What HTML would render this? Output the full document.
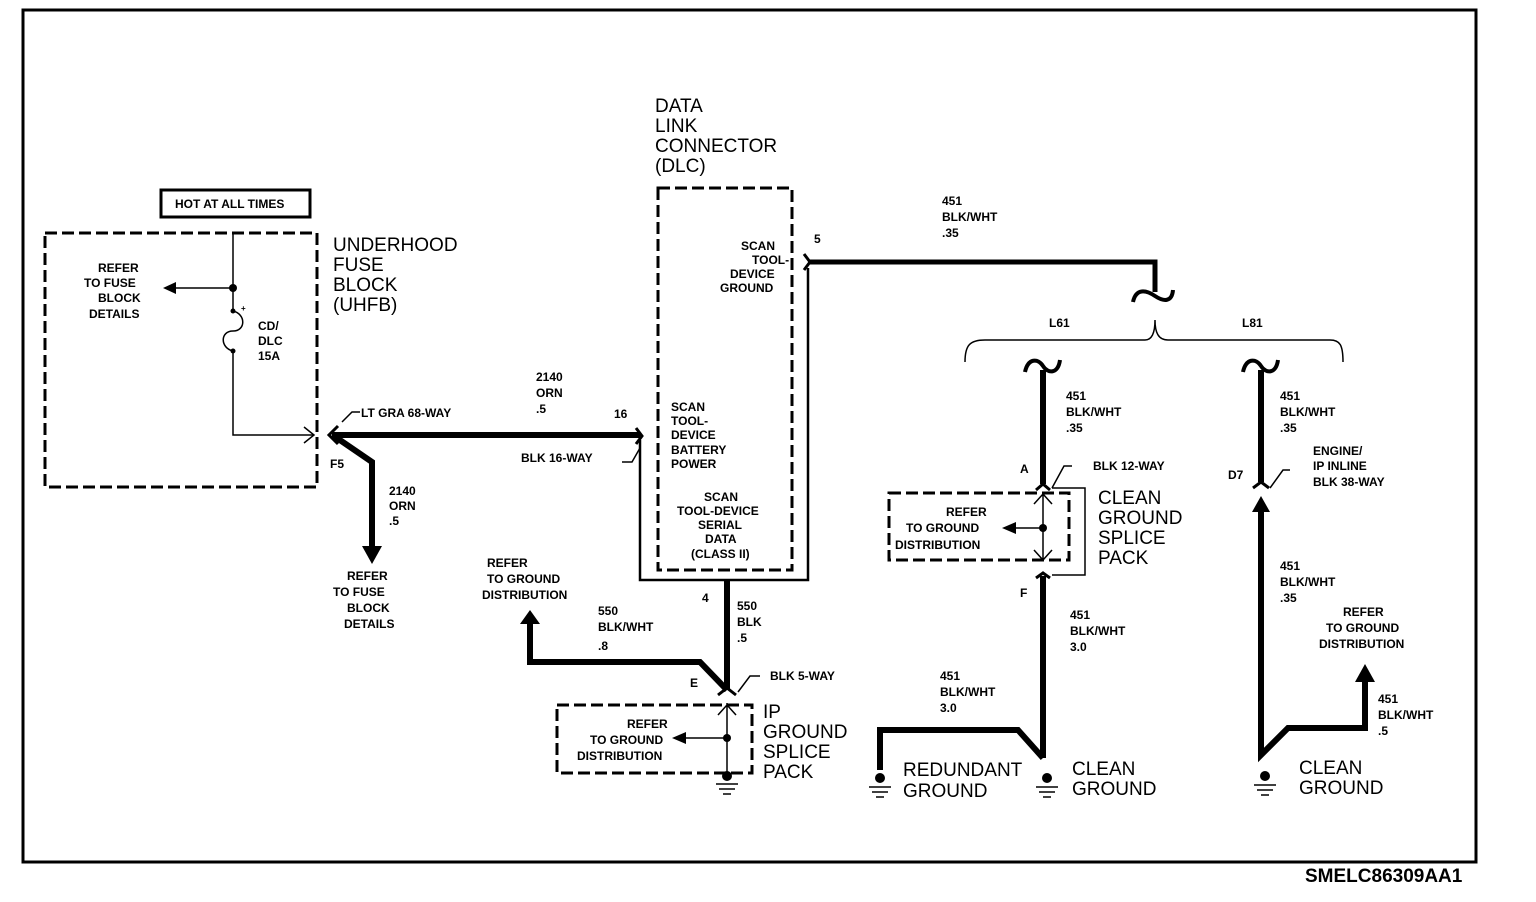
<!DOCTYPE html>
<html><head><meta charset="utf-8"><style>
html,body{margin:0;padding:0;background:#fff;}
svg{display:block;}
text{font-family:"Liberation Sans",Arial,sans-serif;font-weight:bold;fill:#000;}
.s{font-size:12px;}
.b{font-size:19px;font-weight:normal;}
</style></head><body>
<svg width="1536" height="902" viewBox="0 0 1536 902" xmlns="http://www.w3.org/2000/svg">
<rect x="23" y="10" width="1453" height="852" fill="none" stroke="#000" stroke-width="3"/>
<text x="1305" y="882" style="font-size:19px">SMELC86309AA1</text>

<!-- HOT AT ALL TIMES -->
<rect x="161" y="190" width="149" height="27" fill="none" stroke="#000" stroke-width="3"/>
<text x="175" y="208" class="s">HOT AT ALL TIMES</text>

<!-- UHFB -->
<g fill="none" stroke="#000">
<rect x="45" y="233" width="272" height="254" stroke-width="3" stroke-dasharray="12,5"/>
<path d="M233 233 V311 M233 351 V435 H314" stroke-width="1.5"/>
<path d="M233 311 C246 314 246 331 233 331 C220 331 220 348 233 351" stroke-width="1.5"/>
<path d="M233 288 H172" stroke-width="1.5"/>
<path d="M304 427 L314 435 L304 443" stroke-width="1.5"/>
</g>
<circle cx="233" cy="288" r="4"/>
<circle cx="233" cy="311" r="2.5"/>
<circle cx="233" cy="351" r="2.5"/>
<text x="241" y="311" style="font-size:8px">+</text>
<polygon points="163,288 176,282 176,294"/>
<text x="98" y="272" class="s">REFER</text>
<text x="84" y="287" class="s">TO FUSE</text>
<text x="98" y="302" class="s">BLOCK</text>
<text x="89" y="318" class="s">DETAILS</text>
<text x="258" y="330" class="s">CD/</text>
<text x="258" y="345" class="s">DLC</text>
<text x="258" y="360" class="s">15A</text>
<text x="333" y="251" class="b">UNDERHOOD</text>
<text x="333" y="271" class="b">FUSE</text>
<text x="333" y="291" class="b">BLOCK</text>
<text x="333" y="311" class="b">(UHFB)</text>

<!-- main wire 2140 -->
<g fill="none" stroke="#000" stroke-linejoin="miter">
<path d="M332 435 H640" stroke-width="6"/>
<path d="M334 436 L372 462 V548" stroke-width="6"/>
<path d="M338 426 L329 435 L338 444" stroke-width="3"/>
<path d="M342 422 L352 412 H360" stroke-width="1.5"/>
<path d="M636 428 L642 436 L636 444" stroke-width="3"/>
<path d="M622 462 L632 462 L640 448" stroke-width="1.5"/>
<path d="M640 440 V580 H808 V268" stroke-width="2.5"/>
</g>
<polygon points="362,546 382,546 372,564"/>
<text x="361" y="417" class="s">LT GRA 68-WAY</text>
<text x="330" y="468" class="s">F5</text>
<text x="389" y="495" class="s">2140</text>
<text x="389" y="510" class="s">ORN</text>
<text x="389" y="525" class="s">.5</text>
<text x="347" y="580" class="s">REFER</text>
<text x="333" y="596" class="s">TO FUSE</text>
<text x="347" y="612" class="s">BLOCK</text>
<text x="344" y="628" class="s">DETAILS</text>
<text x="536" y="381" class="s">2140</text>
<text x="536" y="397" class="s">ORN</text>
<text x="536" y="413" class="s">.5</text>
<text x="614" y="418" class="s">16</text>
<text x="521" y="462" class="s">BLK 16-WAY</text>

<!-- DLC -->
<rect x="658" y="188" width="134" height="382" fill="none" stroke="#000" stroke-width="3" stroke-dasharray="12,5"/>
<text x="655" y="112" class="b">DATA</text>
<text x="655" y="132" class="b">LINK</text>
<text x="655" y="152" class="b">CONNECTOR</text>
<text x="655" y="172" class="b">(DLC)</text>
<text x="741" y="250" class="s">SCAN</text>
<text x="752" y="264" class="s">TOOL-</text>
<text x="730" y="278" class="s">DEVICE</text>
<text x="720" y="292" class="s">GROUND</text>
<text x="671" y="411" class="s">SCAN</text>
<text x="671" y="425" class="s">TOOL-</text>
<text x="671" y="439" class="s">DEVICE</text>
<text x="671" y="454" class="s">BATTERY</text>
<text x="671" y="468" class="s">POWER</text>
<text x="704" y="501" class="s">SCAN</text>
<text x="677" y="515" class="s">TOOL-DEVICE</text>
<text x="698" y="529" class="s">SERIAL</text>
<text x="705" y="543" class="s">DATA</text>
<text x="691" y="558" class="s">(CLASS II)</text>

<!-- 451 wire top -->
<g fill="none" stroke="#000">
<path d="M808 262 H1155 V292" stroke-width="5"/>
<path d="M804 254 L810 262 L804 270" stroke-width="3"/>
<path d="M1133 302 C1136 288 1146 290 1155 296 C1164 302 1172 302 1173 290" stroke-width="4"/>
<path d="M965 362 C965 345 970 340 985 340 H1145 C1152 340 1155 332 1155 320 C1155 332 1158 340 1168 340 H1330 C1340 340 1343 345 1343 362" stroke-width="1.5"/>
</g>
<text x="814" y="243" class="s">5</text>
<text x="942" y="205" class="s">451</text>
<text x="942" y="221" class="s">BLK/WHT</text>
<text x="942" y="237" class="s">.35</text>
<text x="1049" y="327" class="s">L61</text>
<text x="1242" y="327" class="s">L81</text>

<!-- wire 4 / IP ground -->
<g fill="none" stroke="#000">
<path d="M727 580 V690" stroke-width="6"/>
<path d="M727 690 L700 662 H530 V622" stroke-width="6"/>
<path d="M718 695 L727 688 L736 695" stroke-width="3"/>
<path d="M738 692 L750 676 H760" stroke-width="1.5"/>
<rect x="557" y="705" width="195" height="68" stroke-width="3" stroke-dasharray="12,5"/>
<path d="M727 703 V772 M718 715 L727 705 L736 715 M727 738 H680" stroke-width="1.5"/>
<path d="M716 784 H738 M719 789 H735 M723 794 H731" stroke-width="1.5"/>
</g>
<polygon points="520,624 540,624 530,610"/>
<polygon points="672,738 686,732 686,744"/>
<circle cx="727" cy="738" r="4"/>
<circle cx="727" cy="776" r="5"/>
<text x="487" y="567" class="s">REFER</text>
<text x="487" y="583" class="s">TO GROUND</text>
<text x="482" y="599" class="s">DISTRIBUTION</text>
<text x="598" y="615" class="s">550</text>
<text x="598" y="631" class="s">BLK/WHT</text>
<text x="598" y="650" class="s">.8</text>
<text x="702" y="602" class="s">4</text>
<text x="737" y="610" class="s">550</text>
<text x="737" y="626" class="s">BLK</text>
<text x="737" y="642" class="s">.5</text>
<text x="690" y="687" class="s">E</text>
<text x="770" y="680" class="s">BLK 5-WAY</text>
<text x="627" y="728" class="s">REFER</text>
<text x="590" y="744" class="s">TO GROUND</text>
<text x="577" y="760" class="s">DISTRIBUTION</text>
<text x="763" y="718" class="b">IP</text>
<text x="763" y="738" class="b">GROUND</text>
<text x="763" y="758" class="b">SPLICE</text>
<text x="763" y="778" class="b">PACK</text>

<!-- clean ground splice (L61) -->
<g fill="none" stroke="#000">
<path d="M1043 370 V484" stroke-width="6"/>
<path d="M1025 372 C1028 358 1038 358 1043 366 C1048 374 1058 374 1060 360" stroke-width="4"/>
<path d="M1036 490 L1043 484 L1050 490" stroke-width="3"/>
<path d="M1052 488 L1064 466 H1072" stroke-width="1.5"/>
<path d="M1052 488 H1085 V575 H1052" stroke-width="1.5"/>
<rect x="889" y="493" width="180" height="67" stroke-width="3" stroke-dasharray="12,5"/>
<path d="M1043 494 V560 M1034 504 L1043 494 L1052 504 M1034 550 L1043 560 L1052 550 M1043 528 H1010" stroke-width="1.5"/>
<path d="M1036 578 L1043 573 L1050 578" stroke-width="3"/>
<path d="M1043 576 V758" stroke-width="6"/>
<path d="M1043 758 L1018 730 H880 V770" stroke-width="6"/>
<path d="M869 787 H891 M872 792 H888 M876 797 H884" stroke-width="1.5"/>
<path d="M1036 787 H1058 M1039 792 H1055 M1043 797 H1051" stroke-width="1.5"/>
</g>
<polygon points="1002,528 1016,522 1016,534"/>
<circle cx="1043" cy="528" r="4"/>
<circle cx="880" cy="778" r="5"/>
<circle cx="1047" cy="778" r="5"/>
<text x="1066" y="400" class="s">451</text>
<text x="1066" y="416" class="s">BLK/WHT</text>
<text x="1066" y="432" class="s">.35</text>
<text x="1020" y="473" class="s">A</text>
<text x="1093" y="470" class="s">BLK 12-WAY</text>
<text x="946" y="516" class="s">REFER</text>
<text x="906" y="532" class="s">TO GROUND</text>
<text x="895" y="549" class="s">DISTRIBUTION</text>
<text x="1098" y="504" class="b">CLEAN</text>
<text x="1098" y="524" class="b">GROUND</text>
<text x="1098" y="544" class="b">SPLICE</text>
<text x="1098" y="564" class="b">PACK</text>
<text x="1020" y="597" class="s">F</text>
<text x="1070" y="619" class="s">451</text>
<text x="1070" y="635" class="s">BLK/WHT</text>
<text x="1070" y="651" class="s">3.0</text>
<text x="940" y="680" class="s">451</text>
<text x="940" y="696" class="s">BLK/WHT</text>
<text x="940" y="712" class="s">3.0</text>
<text x="903" y="776" class="b">REDUNDANT</text>
<text x="903" y="797" class="b">GROUND</text>
<text x="1072" y="775" class="b">CLEAN</text>
<text x="1072" y="795" class="b">GROUND</text>

<!-- L81 -->
<g fill="none" stroke="#000">
<path d="M1261 370 V482" stroke-width="6"/>
<path d="M1243 372 C1246 358 1256 358 1261 366 C1266 374 1276 374 1278 360" stroke-width="4"/>
<path d="M1253 488 L1261 482 L1269 488" stroke-width="3"/>
<path d="M1270 488 L1283 470 H1290" stroke-width="1.5"/>
<path d="M1261 510 V755 L1288 728 H1365 V680" stroke-width="6"/>
<path d="M1254 785 H1276 M1257 790 H1273 M1261 795 H1269" stroke-width="1.5"/>
</g>
<polygon points="1252,512 1270,512 1261,496"/>
<polygon points="1355,682 1375,682 1365,664"/>
<circle cx="1265" cy="776" r="5"/>
<text x="1280" y="400" class="s">451</text>
<text x="1280" y="416" class="s">BLK/WHT</text>
<text x="1280" y="432" class="s">.35</text>
<text x="1228" y="479" class="s">D7</text>
<text x="1313" y="455" class="s">ENGINE/</text>
<text x="1313" y="470" class="s">IP INLINE</text>
<text x="1313" y="486" class="s">BLK 38-WAY</text>
<text x="1280" y="570" class="s">451</text>
<text x="1280" y="586" class="s">BLK/WHT</text>
<text x="1280" y="602" class="s">.35</text>
<text x="1343" y="616" class="s">REFER</text>
<text x="1326" y="632" class="s">TO GROUND</text>
<text x="1319" y="648" class="s">DISTRIBUTION</text>
<text x="1378" y="703" class="s">451</text>
<text x="1378" y="719" class="s">BLK/WHT</text>
<text x="1378" y="735" class="s">.5</text>
<text x="1299" y="774" class="b">CLEAN</text>
<text x="1299" y="794" class="b">GROUND</text>
</svg>
</body></html>
